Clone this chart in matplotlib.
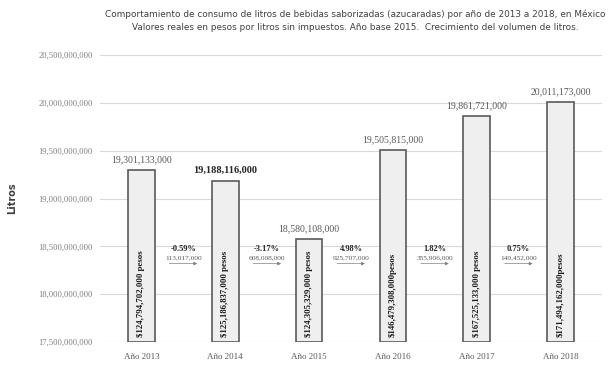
import matplotlib.pyplot as plt
from matplotlib.ticker import FuncFormatter

# litros por año y valor real en pesos (base 2015)
years = ['Año 2013', 'Año 2014', 'Año 2015', 'Año 2016', 'Año 2017', 'Año 2018']
litros = [19301133000, 19188116000, 18580108000, 19505815000, 19861721000, 20011173000]
pesos = ['$124,794,702,000 pesos', '$125,186,837,000 pesos', '$124,305,329,000 pesos',
         '$146,479,308,000pesos', '$167,525,133,000 pesos', '$171,494,162,000pesos']
growth = ['-0.59%', '-3.17%', '4.98%', '1.82%', '0.75%']

serif = 'Liberation Serif'

fig = plt.figure(figsize=(6.09, 3.67), dpi=100)
ax = fig.add_axes([0.164, 0.068, 0.824, 0.782])

x = list(range(len(years)))
ax.bar(x, [v - 17.5e9 for v in litros], bottom=17.5e9, width=0.32,
       color='#efefef', edgecolor='#5a5a5a', linewidth=1.2, zorder=3)

ax.set_ylim(17.5e9, 20.5e9)
ax.set_xlim(-0.495, 5.49)
ax.set_yticks([17.5e9 + i * 0.5e9 for i in range(7)])
ax.yaxis.set_major_formatter(FuncFormatter(lambda v, p: f'{v:,.0f}'))
ax.grid(axis='y', color='#d9d9d9', linewidth=0.8, zorder=0)
for s in ax.spines.values():
    s.set_visible(False)
ax.tick_params(axis='y', length=0, pad=5, labelsize=6.2, labelcolor='#808080')
ax.tick_params(axis='x', length=0, pad=8, labelsize=6.5, labelcolor='#595959')
ax.set_xticks(x)
ax.set_xticklabels(years, fontfamily=serif)
for t in ax.get_yticklabels():
    t.set_fontfamily(serif)

# etiquetas de litros arriba de cada barra
for i, v in enumerate(litros):
    bold = i == 1
    ax.text(i, v + 0.06e9, f'{v:,.0f}', ha='center', va='bottom', family=serif,
            fontsize=7.5 if bold else 7, color='#262626' if bold else '#595959',
            fontweight='bold' if bold else 'normal', zorder=4)
    ax.text(i, 17.5e9 + 0.05e9, pesos[i], rotation=90, ha='center', va='bottom',
            family=serif, fontsize=6.3, fontweight='bold', color='#1a1a1a', zorder=4)

# crecimiento entre años
for i, g in enumerate(growth):
    diff = abs(litros[i + 1] - litros[i])
    xm = i + 0.5
    ax.text(xm, 18.47e9, g, ha='center', va='center', family=serif,
            fontsize=6, fontweight='bold', color='#262626', zorder=4)
    ax.text(xm, 18.385e9, f'{diff:,.0f}', ha='center', va='center', family=serif,
            fontsize=5.3, color='#595959', zorder=4)
    ax.annotate('', xy=(xm + 0.2, 18.32e9), xytext=(xm - 0.2, 18.32e9),
                arrowprops=dict(arrowstyle='-|>', color='#808080', lw=0.5,
                                mutation_scale=5), zorder=4)

ax.set_ylabel('Litros', fontsize=7, color='#404040', fontweight='bold')
ax.yaxis.set_label_coords(-0.165, 0.5)

fig.text(0.583, 0.962, 'Comportamiento de consumo de litros de bebidas saborizadas (azucaradas) '
         'por año de 2013 a 2018, en México', ha='center', va='center',
         fontsize=6.4, color='#404040')
fig.text(0.583, 0.925, 'Valores reales en pesos por litros sin impuestos. Año base 2015.  '
         'Crecimiento del volumen de litros.', ha='center', va='center',
         fontsize=6.4, color='#404040')

fig.savefig('out.png', dpi=100)
